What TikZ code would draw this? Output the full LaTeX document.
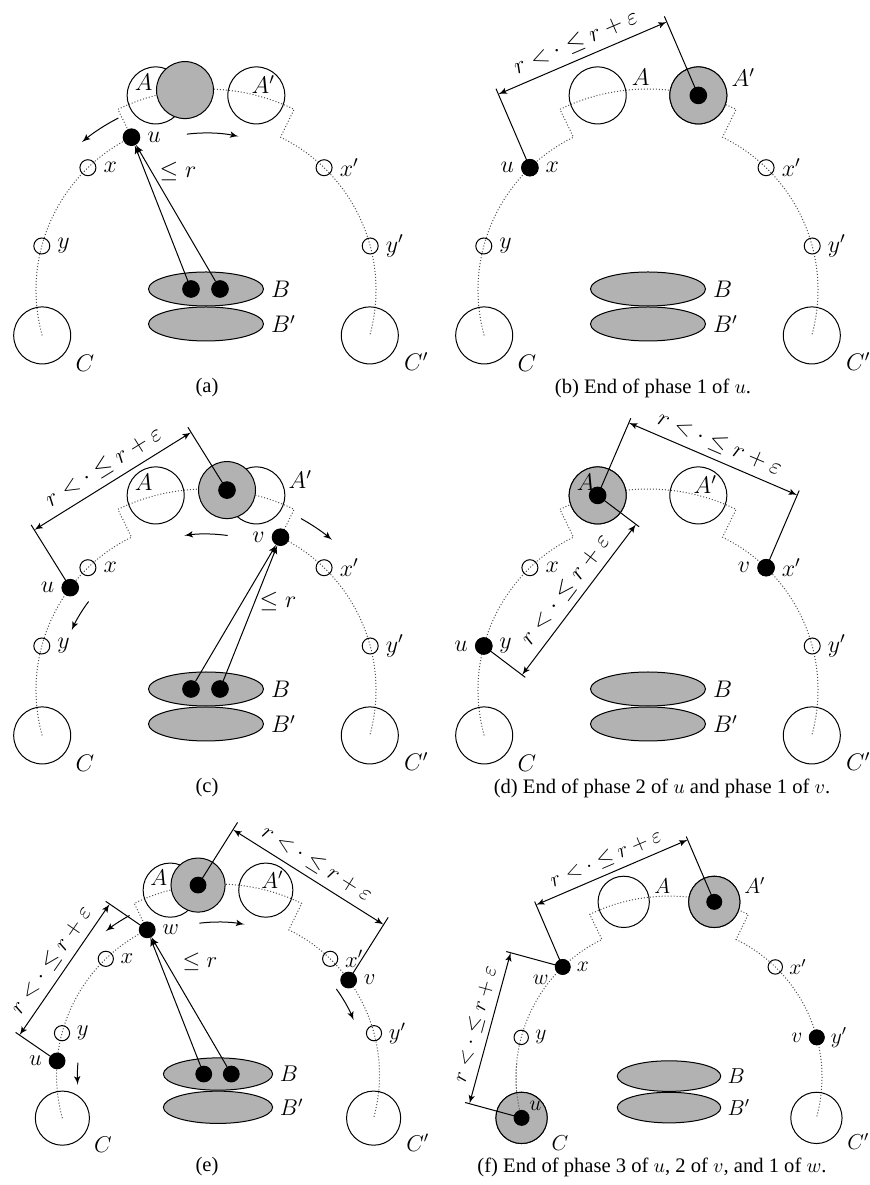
\documentclass[tikz,border=0pt]{standalone}
\usepackage{fontspec}
\setmainfont{Liberation Serif}
\usetikzlibrary{shapes}
\usetikzlibrary{arrows}
\usetikzlibrary{calc}

% common part of every panel: track, regions, waypoints
\newcommand{\scene}{%
  \draw[track] (195.5:170) arc (195.5:116:170) -- (116:201) arc (116:64:201) -- (64:170) arc (64:-15.5:170);
  \node[bigc] (A) at (104.5:201) {};
  \node[bigc] (Ap) at (75.5:201) {};
  \node[bigc, label=-25:$C$] (C) at (195.5:170) {};
  \node[bigc, label=-20:$C'$] (Cp) at (-15.5:170) {};
  \node[smallc, label=right:$x$] (x) at (134:170) {};
  \node[smallc, label=right:$y$] (y) at (165:170) {};
  \node[smallc, label=right:$x'$] (xp) at (46:170) {};
  \node[smallc, label=right:$y'$] (yp) at (15:170) {};
  \node[bell, label=right:$B$] (B) at (0,1) {};
  \node[bell, label=right:$B'$] (Bp) at (0,-34) {};
}

% distance mark on the left of #1 -> #2
\newcommand{\distmark}[4]{%
  \draw (#1.center) -- ($(#1)!#4!90:(#2)$);
  \draw (#2.center) -- ($(#2)!#4!-90:(#1)$);
  \draw[latex'-latex'] ($(#1)!#3!90:(#2)$) -- node[above, sloped] {$r<\cdot\leq r+\varepsilon$} ($(#2)!#3!-90:(#1)$);
}

\begin{document}
\begin{tikzpicture}
[x=0.5pt, y=0.5pt, line width=0.5pt,
every node/.style = {font=\fontsize{11.5}{13}\selectfont},
track/.style  = {densely dotted, black!70},
bigc/.style   = {circle, draw, minimum size=28.5pt, inner sep=0pt},
smallc/.style = {circle, draw, minimum size=8pt, inner sep=0pt},
bdot/.style   = {circle, draw, fill, minimum size=8.3pt, inner sep=0pt},
gdisk/.style  = {circle, draw, fill=black!30, minimum size=28.5pt, inner sep=0pt},
bell/.style   = {ellipse, draw, fill=black!30, minimum width=57.5pt, minimum height=17pt, inner sep=0pt},
reach/.style  = {-latex'},
move/.style   = {-latex'},
captext/.style = {font=\fontsize{10.3}{12}\selectfont}
]
\useasboundingbox (0,0) rectangle (870,1185);

% (a)
\begin{scope}[shift={(206,895)}]
\scene
\node[gdisk] (g) at (96:201) {};
\node at ([shift={(-12,13)}]104.5:201) {$A$};
\node at ([shift={(7,11)}]75.5:201) {$A'$};
\node[bdot, label=right:$u$] (u) at (116:170) {};
\node[bdot] (b1) at (-15,1) {};
\node[bdot] (b2) at (14,1) {};
\draw[reach] (b1) -- (u);
\draw[reach] (b2) -- (u);
\node at (-28,118) {$\leq r$};
\draw[move] (117:193) arc (117:130:193);
\draw[move] (97:157) arc (97:78:157);
\end{scope}

% (b)
\begin{scope}[shift={(648,895)}]
\scene
\node[gdisk] (g) at (75.5:201) {};
\node[bdot] (ac) at (75.5:201) {};
\node at ([shift={(43,18)}]104.5:201) {$A$};
\node at ([shift={(45,18)}]75.5:201) {$A'$};
\node[bdot, label=left:$u$] (u) at (134:170) {};
\distmark{u}{ac}{40pt}{43pt}
\end{scope}

% (c)
\begin{scope}[shift={(206,495)}]
\scene
\node[gdisk] (g) at (84:201) {};
\node[bdot] (ac) at (84:201) {};
\node at ([shift={(-12,13)}]104.5:201) {$A$};
\node at ([shift={(44,16)}]75.5:201) {$A'$};
\node[bdot, label=left:$v$] (v) at (64:170) {};
\node[bdot, label=left:$u$] (u) at (143:170) {};
\node[bdot] (b1) at (-15,1) {};
\node[bdot] (b2) at (14,1) {};
\draw[reach] (b1) -- (v);
\draw[reach] (b2) -- (v);
\node at (72,88) {$\leq r$};
\draw[move] (82:156) arc (82:98:156);
\draw[move] (61:196) arc (61:50:196);
\draw[move] (143:147) arc (143:156:147);
\distmark{u}{ac}{34pt}{37pt}
\end{scope}

% (d)
\begin{scope}[shift={(648,495)}]
\scene
\node[gdisk] (g) at (104.5:201) {};
\node[bdot] (ac) at (104.5:201) {};
\node at ([shift={(-12,13)}]104.5:201) {$A$};
\node at ([shift={(7,11)}]75.5:201) {$A'$};
\node[bdot, label=left:$v$] (v) at (46:170) {};
\node[bdot, label=left:$u$] (u) at (165:170) {};
\distmark{ac}{v}{39.5pt}{42pt}
\distmark{ac}{u}{24pt}{26pt}
\end{scope}

% (e)
\begin{scope}[shift={(218,110)}, scale=0.95, transform shape]
\scene
\node[gdisk] (g) at (96:201) {};
\node[bdot] (ac) at (96:201) {};
\node at ([shift={(-12,13)}]104.5:201) {$A$};
\node at ([shift={(7,11)}]75.5:201) {$A'$};
\node[bdot, label=right:$w$] (w) at (116:170) {};
\node[bdot, label=left:$u$] (u) at (175:170) {};
\node[bdot, label=right:$v$] (v) at (36:170) {};
\node[bdot] (b1) at (-15,1) {};
\node[bdot] (b2) at (14,1) {};
\draw[reach] (b1) -- (w);
\draw[reach] (b2) -- (w);
\node at (-19,119) {$\leq r$};
\draw[move] (119:192) arc (119:128:192);
\draw[move] (97:161) arc (97:80:161);
\draw[move] (175:148) arc (175:184:148);
\draw[move] (36:154) arc (36:22:154);
\distmark{ac}{v}{34.5pt}{39pt}
\distmark{u}{w}{24pt}{26.5pt}
\end{scope}

% (f)
\begin{scope}[shift={(669,108)}, scale=0.9, transform shape]
\scene
\node[gdisk] (g) at (75.5:201) {};
\node[bdot] (ac) at (75.5:201) {};
\node[gdisk] (gc) at (195.5:170) {};
\draw[track] (175:170) arc (175:195.5:170);
\node[bdot, label={[inner sep=1pt]45:$u$}] (u) at (195.5:170) {};
\node at ([shift={(43,18)}]104.5:201) {$A$};
\node at ([shift={(45,18)}]75.5:201) {$A'$};
\node[bdot, label=195:$w$] (w) at (134:170) {};
\node[bdot, label=left:$v$] (v) at (15:170) {};
\distmark{w}{ac}{37.5pt}{39.5pt}
\distmark{u}{w}{30pt}{32.5pt}
\end{scope}

% captions
\node[captext] (capa) at (207,797) {(a)};
\node[captext] (capb) at (653,797) {(b) End of phase 1 of $u$.};
\node[captext] (capc) at (207,397) {(c)};
\node[captext] (capd) at (662,397) {(d) End of phase 2 of $u$ and phase 1 of $v$.};
\node[captext] (cape) at (207,18) {(e)};
\node[captext] (capf) at (652,18) {(f) End of phase 3 of $u$, 2 of $v$, and 1 of $w$.};
\end{tikzpicture}
\end{document}
